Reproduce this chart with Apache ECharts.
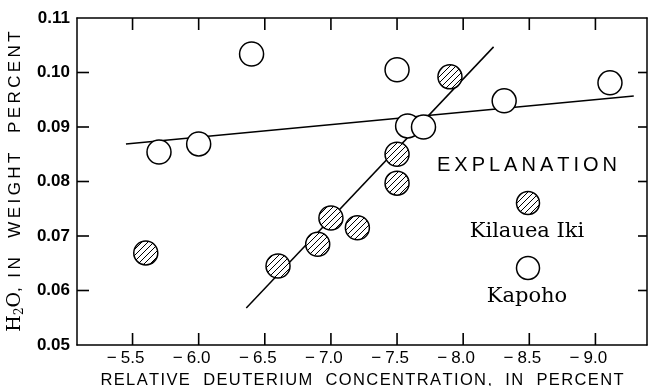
<!DOCTYPE html>
<html>
<head>
<meta charset="utf-8">
<script src="https://cdn.jsdelivr.net/npm/echarts@6/dist/echarts.min.js"></script>
<style>
html, body { margin: 0; padding: 0; background: #fff; }
#chart { width: 654px; height: 386px; }
</style>
</head>
<body>
<div id="chart"></div>
<script>
// values
var xTicks = [-5.5, -6.0, -6.5, -7.0, -7.5, -8.0, -8.5, -9.0];
var yTicks = [0.06, 0.07, 0.08, 0.09, 0.10];
var kilaueaIki = [[-5.6, 0.0669], [-6.6, 0.0645], [-6.9, 0.0685], [-7.0, 0.0733],
    [-7.2, 0.0715], [-7.5, 0.0797], [-7.5, 0.0850], [-7.9, 0.0992]];
var kapoho = [[-5.7, 0.0854], [-6.0, 0.0869], [-6.4, 0.1034], [-7.5, 0.1005],
    [-7.58, 0.0902], [-7.7, 0.0900], [-8.31, 0.0948], [-9.11, 0.0981]];
var kilaueaFit = [[-6.36, 0.0568], [-8.23, 0.1047]];
var kapohoFit = [[-5.45, 0.0869], [-9.29, 0.0957]];

function hatchCanvas() {
    var c = document.createElement('canvas');
    c.width = 6;
    c.height = 6;
    var g = c.getContext('2d');
    g.fillStyle = '#fff';
    g.fillRect(0, 0, 6, 6);
    g.strokeStyle = '#000';
    g.lineWidth = 1;
    g.beginPath();
    g.moveTo(0, 6); g.lineTo(6, 0);
    g.moveTo(-1, 1); g.lineTo(1, -1);
    g.moveTo(5, 7); g.lineTo(7, 5);
    g.stroke();
    return c;
}

function spaced(s, sep) {
    return s.split('').join(sep || '\u200A');
}

var myChart;
function initChart() {
    var chartDom = document.getElementById('chart');
    myChart = echarts.init(chartDom, null, { renderer: 'canvas' });
    var hatch = { image: hatchCanvas(), repeat: 'repeat' };
    var sans = 'Liberation Sans';
    var serif = 'DejaVu Serif';
    var frameStyle = { color: '#000', width: 1.5 };

    function circles(fill) {
        return function (params, api) {
            var p = api.coord([api.value(0), api.value(1)]);
            return {
                type: 'circle',
                shape: { cx: p[0], cy: p[1], r: 12 },
                style: { fill: fill, stroke: '#000', lineWidth: 1.5 }
            };
        };
    }

    var legend = [
        {
            type: 'text', x: 527, y: 165,
            style: { text: spaced('EXPLANATION', '\u2009'), fontFamily: sans, fontSize: 20, fill: '#000', align: 'center', verticalAlign: 'middle' }
        },
        {
            type: 'circle', shape: { cx: 528, cy: 203, r: 11.5 },
            style: { fill: hatch, stroke: '#000', lineWidth: 1.5 }
        },
        {
            type: 'text', x: 527, y: 232,
            style: { text: 'Kilauea Iki', fontFamily: serif, fontSize: 21, fill: '#000', align: 'center', verticalAlign: 'middle' }
        },
        {
            type: 'circle', shape: { cx: 528, cy: 268, r: 11.5 },
            style: { fill: '#fff', stroke: '#000', lineWidth: 1.5 }
        },
        {
            type: 'text', x: 527, y: 297,
            style: { text: 'Kapoho', fontFamily: serif, fontSize: 21, fill: '#000', align: 'center', verticalAlign: 'middle' }
        }
    ];

    var option = {
        backgroundColor: '#fff',
        animation: false,
        grid: { left: 77, right: 7, top: 18, bottom: 41, outerBoundsMode: 'none', containLabel: false },
        xAxis: [
            {
                type: 'value',
                inverse: true,
                min: -9.39,
                max: -5.08,
                position: 'bottom',
                axisLine: { show: true, onZero: false, lineStyle: frameStyle },
                axisTick: { show: false },
                axisLabel: {
                    customValues: xTicks,
                    margin: 5,
                    color: '#000',
                    fontFamily: sans,
                    fontSize: 17,
                    formatter: function (v) { return '{m|\u2212}{n|' + Math.abs(v).toFixed(1) + '}{p|}'; },
                    rich: {
                        m: { width: 14, align: 'left', fontFamily: sans, fontSize: 17, color: '#000' },
                        n: { fontFamily: sans, fontSize: 17, color: '#000' },
                        p: { width: 14 }
                    }
                },
                splitLine: { show: false },
                name: spaced('RELATIVE  DEUTERIUM  CONCENTRATION,  IN  PERCENT'),
                nameLocation: 'middle',
                nameGap: 25,
                nameTextStyle: { color: '#000', fontFamily: sans, fontSize: 16.5 }
            },
            {
                type: 'value',
                inverse: true,
                min: -9.39,
                max: -5.08,
                position: 'top',
                axisLine: { show: true, onZero: false, lineStyle: frameStyle },
                axisTick: { show: false },
                axisLabel: { show: false },
                splitLine: { show: false }
            }
        ],
        yAxis: [
            {
                type: 'value',
                min: 0.05,
                max: 0.11,
                interval: 0.01,
                position: 'left',
                axisLine: { show: true, onZero: false, lineStyle: frameStyle },
                axisTick: { show: false },
                axisLabel: {
                    margin: 7,
                    color: '#000',
                    fontFamily: sans,
                    fontWeight: 'bold',
                    fontSize: 17,
                    formatter: function (v) { return v.toFixed(2); }
                },
                splitLine: { show: false },
                name: '{h|H}{s|2}{h|O}{t|,  ' + spaced('IN  WEIGHT  PERCENT', '\u2009') + '}',
                nameLocation: 'middle',
                nameGap: 47,
                nameRotate: 90,
                nameTextStyle: {
                    color: '#000',
                    rich: {
                        h: { fontFamily: serif, fontSize: 19, color: '#000', lineHeight: 22, verticalAlign: 'middle' },
                        s: { fontFamily: serif, fontSize: 12, color: '#000', lineHeight: 22, verticalAlign: 'bottom' },
                        t: { fontFamily: sans, fontSize: 17, color: '#000', lineHeight: 22, verticalAlign: 'middle' }
                    }
                }
            },
            {
                type: 'value',
                min: 0.05,
                max: 0.11,
                interval: 0.01,
                position: 'right',
                axisLine: { show: true, onZero: false, lineStyle: frameStyle },
                axisTick: { show: false },
                axisLabel: { show: false },
                splitLine: { show: false }
            }
        ],
        graphic: legend,
        series: [
            {
                name: 'Kapoho fit',
                type: 'line',
                data: kapohoFit,
                symbol: 'none',
                lineStyle: { color: '#000', width: 1.5 },
                z: 2
            },
            {
                name: 'Kilauea Iki fit',
                type: 'line',
                data: kilaueaFit,
                symbol: 'none',
                lineStyle: { color: '#000', width: 1.5 },
                z: 2
            },
            {
                name: 'Kapoho',
                type: 'custom',
                data: kapoho,
                renderItem: circles('#fff'),
                z: 3
            },
            {
                name: 'Kilauea Iki',
                type: 'custom',
                data: kilaueaIki,
                renderItem: circles(hatch),
                z: 3
            }
        ]
    };

    option && myChart.setOption(option);

    // inward tick marks on all four frame lines, placed through the axis scales,
    // drawn on their own canvas layer above everything else
    var lo = myChart.convertToPixel({ gridIndex: 0 }, [-5.08, 0.05]);
    var hi = myChart.convertToPixel({ gridIndex: 0 }, [-9.39, 0.11]);
    var tickStyle = { fill: '#000' };
    var ticks = [];
    xTicks.forEach(function (v) {
        var px = myChart.convertToPixel({ gridIndex: 0 }, [v, 0.08])[0];
        ticks.push({ type: 'rect', zlevel: 5, z: 100, shape: { x: px - 0.8, y: lo[1] - 12, width: 1.6, height: 12 }, style: tickStyle });
        ticks.push({ type: 'rect', zlevel: 5, z: 100, shape: { x: px - 0.8, y: hi[1], width: 1.6, height: 12 }, style: tickStyle });
    });
    yTicks.forEach(function (v) {
        var py = myChart.convertToPixel({ gridIndex: 0 }, [-7, v])[1];
        ticks.push({ type: 'rect', zlevel: 5, z: 100, shape: { x: lo[0], y: py - 0.8, width: 12, height: 1.6 }, style: tickStyle });
        ticks.push({ type: 'rect', zlevel: 5, z: 100, shape: { x: hi[0] - 9, y: py - 0.8, width: 9, height: 1.6 }, style: tickStyle });
    });
    myChart.setOption({ graphic: legend.concat(ticks) });
}

document.addEventListener('DOMContentLoaded', function () {
    initChart();
});
</script>
</body>
</html>
